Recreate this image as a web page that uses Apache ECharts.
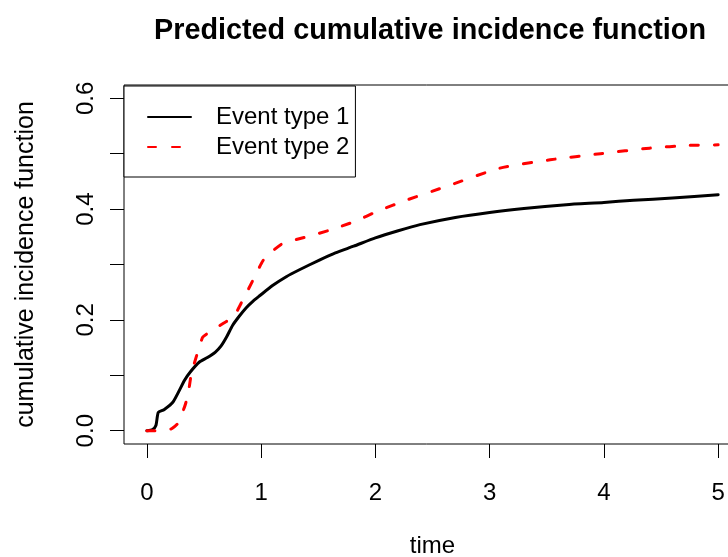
<!DOCTYPE html>
<html>
<head>
<meta charset="utf-8">
<script src="https://cdn.jsdelivr.net/npm/echarts@6/dist/echarts.min.js"></script>
<style>
  html, body { margin: 0; padding: 0; background: #fff; }
  #chart { width: 728px; height: 557px; }
</style>
</head>
<body>
<div id="chart"></div>
<script>
// Predicted cumulative incidence for two competing event types
const FONT = "'Liberation Sans', Arial, Helvetica, sans-serif";

const seriesNames = ['Event type 1', 'Event type 2'];

const time1 = [0, 0.05, 0.08, 0.1, 0.15, 0.23, 0.33, 0.38, 0.46, 0.53, 0.6, 0.65, 0.7, 0.75, 0.81, 0.87, 0.93, 0.99, 1.1, 1.22, 1.34, 1.51, 1.65, 1.81, 2.0, 2.2, 2.39, 2.7, 3.0, 3.3, 3.67, 4.0, 4.26, 4.6, 5.0];
const cif1  = [0, 0.002, 0.01, 0.033, 0.038, 0.052, 0.091, 0.106, 0.124, 0.132, 0.142, 0.153, 0.17, 0.19, 0.207, 0.222, 0.234, 0.244, 0.262, 0.278, 0.291, 0.308, 0.321, 0.333, 0.348, 0.361, 0.372, 0.385, 0.394, 0.401, 0.408, 0.412, 0.416, 0.42, 0.426];

const time2 = [0, 0.1, 0.18, 0.22, 0.27, 0.33, 0.36, 0.39, 0.45, 0.49, 0.55, 0.67, 0.76, 0.84, 0.93, 1.02, 1.11, 1.19, 1.4, 1.6, 1.81, 2.04, 2.27, 2.65, 3.09, 3.53, 3.97, 4.4, 4.75, 5.0];
const cif2  = [0, 0, 0.001, 0.004, 0.013, 0.043, 0.065, 0.103, 0.145, 0.169, 0.178, 0.194, 0.206, 0.236, 0.272, 0.308, 0.326, 0.338, 0.35, 0.362, 0.377, 0.398, 0.416, 0.443, 0.474, 0.489, 0.5, 0.51, 0.515, 0.516];

const xTicks = [0, 1, 2, 3, 4, 5];
const yTicks = [0, 0.1, 0.2, 0.3, 0.4, 0.5, 0.6];
const yLabels = [0, 0.2, 0.4, 0.6];

const pairs = (xs, ys) => xs.map((x, i) => [x, ys[i]]);

const chart = echarts.init(document.getElementById('chart'), null, { renderer: 'canvas' });

const axisText = { color: '#000', fontFamily: FONT, fontSize: 24 };

chart.setOption({
  animation: false,
  backgroundColor: '#fff',
  title: {
    text: 'Predicted cumulative incidence function',
    left: 425, top: 12, textAlign: 'center',
    textStyle: { color: '#000', fontFamily: FONT, fontSize: 28.8, fontWeight: 'bold' }
  },
  legend: {
    orient: 'vertical',
    left: 124, top: 86,
    padding: [19, 6, 18, 23],
    itemGap: 6,
    itemWidth: 43, itemHeight: 14,
    backgroundColor: '#fff',
    borderColor: '#000', borderWidth: 1,
    itemStyle: { color: 'transparent', borderColor: 'transparent', borderWidth: 0, opacity: 0 },
    textStyle: { color: '#000', fontFamily: FONT, fontSize: 24, lineHeight: 24, padding: [0, 0, 0, 20] },
    data: seriesNames
  },
  grid: {
    left: 124, top: 85, width: 617, height: 359,
    outerBoundsMode: 'none', containLabel: false,
    show: true, borderColor: '#000', borderWidth: 1, backgroundColor: 'transparent'
  },
  xAxis: {
    type: 'value', min: -0.2, max: 5.2,
    name: 'time', nameLocation: 'middle', nameGap: 90,
    nameTextStyle: axisText,
    axisLine: { show: false, onZero: false },
    axisTick: { show: true, length: 14, lineStyle: { color: '#000', width: 1 }, customValues: xTicks },
    axisLabel: { ...axisText, margin: 37, customValues: xTicks, formatter: v => String(v) },
    splitLine: { show: false }
  },
  yAxis: {
    type: 'value', min: -0.024, max: 0.624,
    name: 'cumulative incidence function', nameLocation: 'middle', nameRotate: 90, nameGap: 85,
    nameTextStyle: { ...axisText, fontSize: 25 },
    axisLine: { show: false, onZero: false },
    axisTick: { show: true, length: 14, lineStyle: { color: '#000', width: 1 }, customValues: yTicks },
    axisLabel: { ...axisText, rotate: 90, margin: 26, customValues: yLabels, formatter: v => v.toFixed(1) },
    splitLine: { show: false }
  },
  series: [
    {
      name: seriesNames[0], type: 'line',
      data: pairs(time1, cif1),
      showSymbol: false, symbol: 'none',
      smooth: 0.2,
      lineStyle: { color: '#000', width: 3, cap: 'round', join: 'round' },
      itemStyle: { color: '#000' }
    },
    {
      name: seriesNames[1], type: 'line',
      data: pairs(time2, cif2),
      showSymbol: false, symbol: 'none',
      smooth: 0.2,
      lineStyle: { color: '#ff0000', width: 3, type: [8, 16], cap: 'round', join: 'round' },
      itemStyle: { color: '#ff0000' }
    }
  ]
});
</script>
</body>
</html>
